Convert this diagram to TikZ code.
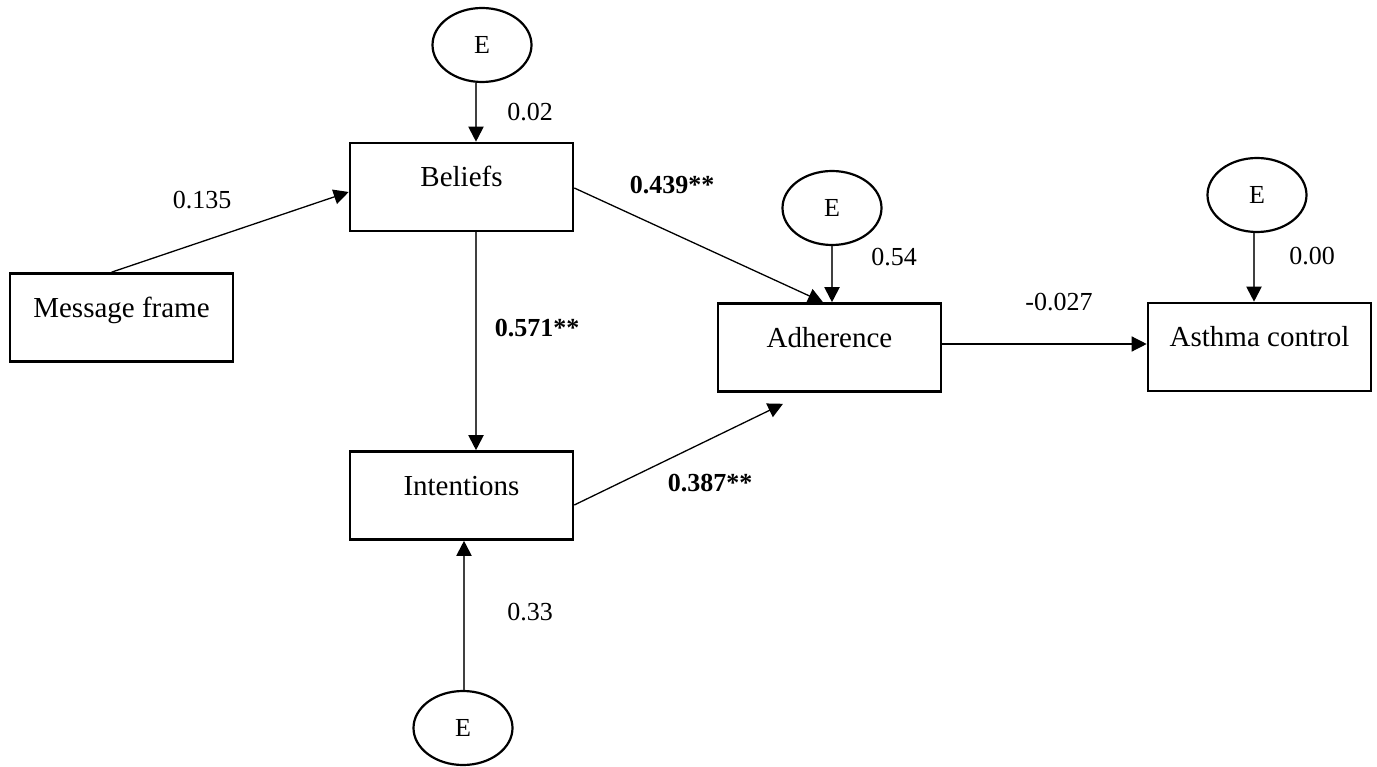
\documentclass[tikz,border=0pt]{standalone}
\usepackage{fontspec}
\setmainfont{Liberation Serif}
\usetikzlibrary{arrows.meta,shapes.geometric}

\tikzset{
  varbox/.style={draw=black, line width=2.6pt, rectangle, minimum width=223pt,
    minimum height=88pt, inner sep=0pt, text height=20pt, text depth=20pt,
    font=\fontsize{29}{34}\selectfont},
  errnode/.style={draw=black, line width=2.2pt, ellipse, minimum width=99pt,
    minimum height=74pt, inner sep=0pt, font=\fontsize{26}{30}\selectfont},
  path/.style={draw=black, line width=1.3pt, -{Triangle[length=15pt,width=15pt]}},
  errpath/.style={draw=black!75, line width=2pt, -{Triangle[length=15pt,width=15pt,fill=black,color=black]}},
  coef/.style={font=\fontsize{26}{30}\selectfont, inner sep=0pt},
  sig/.style={coef, font=\fontsize{26}{30}\selectfont\bfseries}
}

\begin{document}
\begin{tikzpicture}[x=1pt,y=-1pt]
\useasboundingbox (0,0) rectangle (1377,767);

% observed variables
\node[varbox] (msg) at (121.5,317.5) {Message frame};
\node[varbox] (beliefs) at (461.5,187) {Beliefs};
\node[varbox] (intent) at (461.5,495.5) {Intentions};
\node[varbox] (adh) at (829.5,347.5) {Adherence};
\node[varbox] (asthma) at (1259.5,347) {Asthma control};

% error terms
\node[errnode] (e1) at (482,45) {E};
\node[errnode] (e2) at (832,208) {E};
\node[errnode] (e3) at (1257,195) {E};
\node[errnode] (e4) at (463,728) {E};

% structural paths
\draw[path] ([xshift=-10pt]msg.north) -- ([yshift=-5pt]beliefs.west);
\draw[errpath] ([xshift=14.5pt]beliefs.south) -- ([xshift=14.5pt]intent.north);
\draw[path] ([yshift=-1pt]beliefs.east) -- ([xshift=-6.5pt]adh.north);
\draw[path] ([yshift=-9.5pt]intent.east) -- ([shift={(-46.5pt,-11pt)}]adh.south);
\draw[path] ([yshift=3.5pt]adh.east) -- ([yshift=3.5pt]adh.east -| asthma.west);

% error paths
\draw[errpath] ([xshift=-6pt]e1.south) -- ([xshift=-6pt]e1.south |- beliefs.north);
\draw[errpath] (e2.south) -- (e2.south |- adh.north);
\draw[errpath] ([xshift=-3pt]e3.south) -- ([xshift=-3pt]e3.south |- asthma.north);
\draw[errpath] ([xshift=1pt]e4.north) -- ([xshift=1pt]e4.north |- intent.south);

% coefficients
\node[coef] (c1) at (530,112) {0.02};
\node[coef] (c2) at (202,200) {0.135};
\node[sig]  (c3) at (672,185) {0.439**};
\node[coef] (c4) at (894,257) {0.54};
\node[sig]  (c5) at (537,328) {0.571**};
\node[coef] (c6) at (1059,302) {-0.027};
\node[coef] (c7) at (1312,256) {0.00};
\node[sig]  (c8) at (710,483) {0.387**};
\node[coef] (c9) at (530,612) {0.33};
\end{tikzpicture}
\end{document}
